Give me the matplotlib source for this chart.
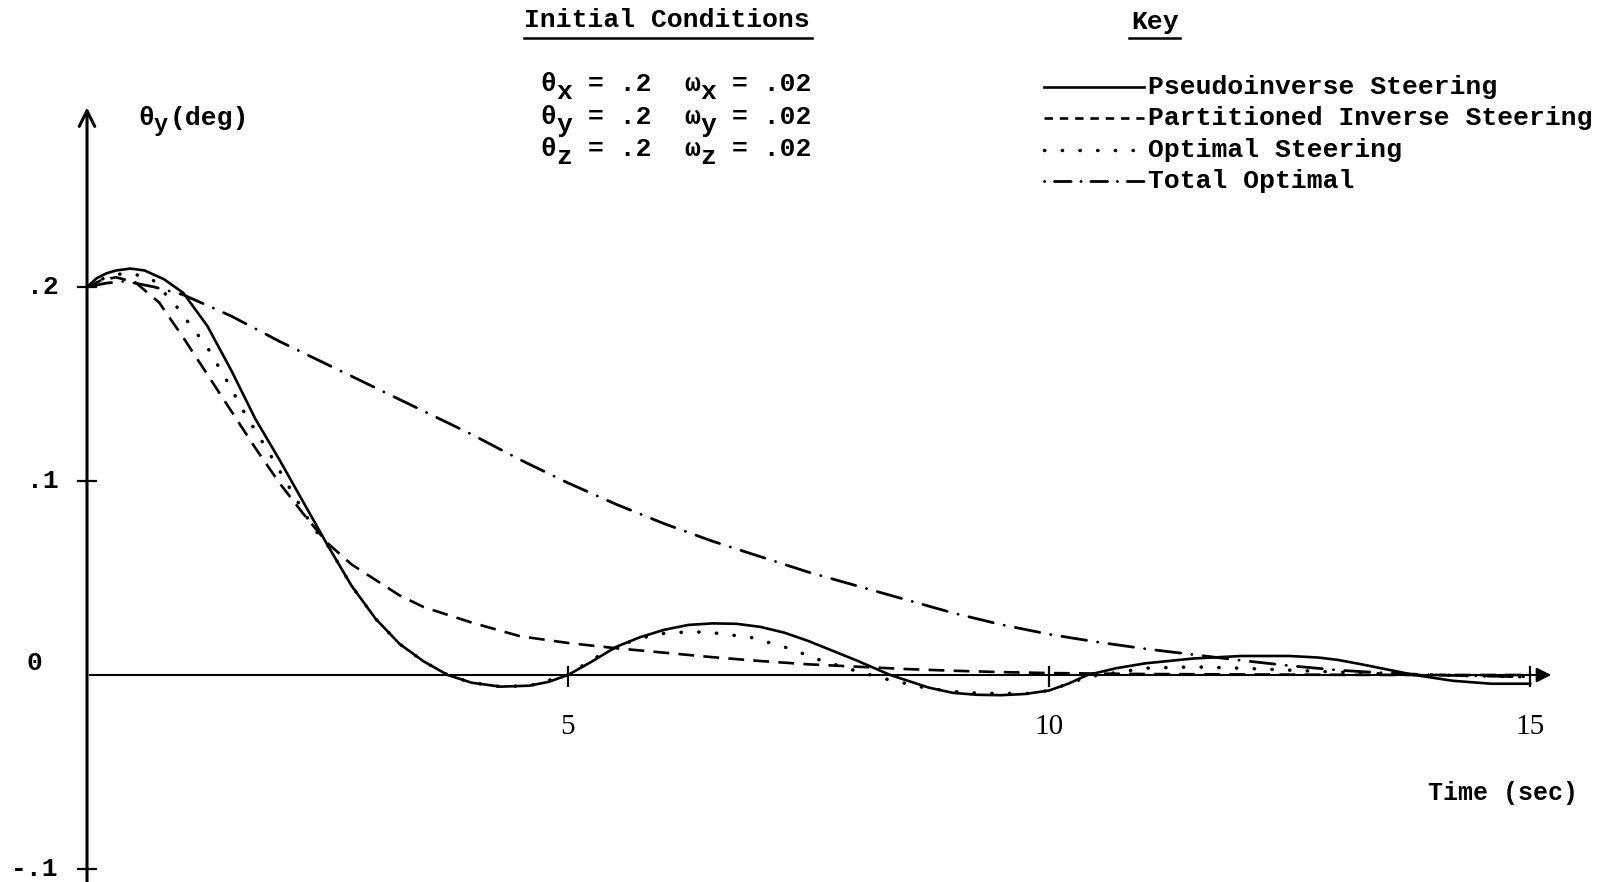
import numpy as np
import matplotlib.pyplot as plt
from matplotlib.lines import Line2D

plt.rcParams['font.family'] = ['Liberation Mono', 'DejaVu Sans Mono']

# data (time in sec, theta_y in deg)
t_pseudo = [0, 0.1, 0.2, 0.3, 0.45, 0.6, 0.8, 1.0, 1.25, 1.5, 1.75, 2.0, 2.25, 2.5, 2.75, 3.0,
            3.25, 3.5, 3.75, 4.0, 4.3, 4.6, 4.8, 5.0, 5.25, 5.5, 5.75, 6.0, 6.25, 6.5, 6.75, 7.0,
            7.25, 7.5, 7.75, 8.0, 8.35, 8.75, 9.0, 9.25, 9.5, 9.75, 10.0, 10.2, 10.4, 10.7, 11.0,
            11.5, 12.0, 12.5, 12.8, 13.0, 13.25, 13.5, 13.8, 14.2, 14.6, 15.0]
y_pseudo = [0.200, 0.2045, 0.207, 0.2085, 0.2095, 0.2085, 0.204, 0.197, 0.180, 0.157, 0.132,
            0.111, 0.089, 0.067, 0.046, 0.029, 0.016, 0.007, 0.0, -0.004, -0.006, -0.0055,
            -0.0035, 0.0, 0.007, 0.0145, 0.0195, 0.0233, 0.0258, 0.0266, 0.0264, 0.0248, 0.0218,
            0.0175, 0.0125, 0.0075, 0.0, -0.0065, -0.0092, -0.0102, -0.0104, -0.0098, -0.008,
            -0.0045, 0.0, 0.0035, 0.006, 0.0085, 0.0098, 0.0098, 0.009, 0.0078, 0.0055, 0.003,
            0.0, -0.003, -0.0045, -0.0045]

t_part = [0, 0.15, 0.3, 0.5, 0.75, 1.0, 1.25, 1.5, 1.75, 2.0, 2.25, 2.5, 2.75, 3.0, 3.25, 3.5,
          4.0, 4.5, 5.0, 5.5, 6.0, 6.5, 7.0, 7.5, 8.0, 8.5, 9.0, 9.5, 10, 11, 12, 13, 14, 15]
y_part = [0.200, 0.2035, 0.205, 0.2025, 0.192, 0.174, 0.155, 0.136, 0.117, 0.099, 0.083, 0.068,
          0.057, 0.049, 0.041, 0.035, 0.027, 0.020, 0.0165, 0.0138, 0.0115, 0.0092, 0.0072,
          0.0055, 0.0043, 0.0031, 0.0022, 0.0015, 0.001, 0.0005, 0.0003, 0.0001, 0.0, 0.0]

t_opt = [0, 0.15, 0.3, 0.45, 0.67, 0.93, 1.05, 1.25, 1.45, 1.65, 1.9, 2.1, 2.35, 2.5, 2.75, 3.0,
         3.25, 3.5, 3.75, 4.0, 4.3, 4.6, 5.0, 5.25, 5.5, 5.75, 6.0, 6.3, 6.5, 6.9, 7.3, 7.6, 8.0,
         8.3, 8.7, 9.0, 9.3, 9.8, 10.0, 10.4, 11.0, 11.5, 12.0, 12.5, 13.0, 13.5, 14.0, 15.0]
y_opt = [0.200, 0.204, 0.2065, 0.207, 0.2045, 0.190, 0.182, 0.169, 0.152, 0.134, 0.114, 0.097,
         0.076, 0.067, 0.046, 0.029, 0.016, 0.007, 0.0, -0.004, -0.006, -0.0055, 0.0, 0.008,
         0.0145, 0.019, 0.0215, 0.0223, 0.0218, 0.0194, 0.0137, 0.008, 0.002, -0.002, -0.0065,
         -0.0085, -0.0095, -0.0095, -0.008, -0.001, 0.0035, 0.0042, 0.0035, 0.0025, 0.0015,
         0.0005, 0.0, -0.001]

t_total = [0, 0.2, 0.4, 0.7, 1.0, 1.5, 2.0, 2.5, 3.0, 3.5, 4.0, 4.5, 5.0, 5.5, 6.0, 6.5, 7.0,
           7.5, 8.0, 8.5, 9.0, 9.5, 10.0, 10.5, 11.0, 11.5, 12.0, 12.5, 13.0, 13.5, 14.0, 14.5, 15.0]
y_total = [0.200, 0.202, 0.203, 0.200, 0.196, 0.185, 0.172, 0.160, 0.148, 0.136, 0.124, 0.111,
           0.099, 0.088, 0.078, 0.069, 0.061, 0.053, 0.046, 0.039, 0.032, 0.026, 0.021, 0.017,
           0.0135, 0.0105, 0.0075, 0.0048, 0.0025, 0.001, 0.0, -0.0005, -0.001]

y_ticks = [0.2, 0.1, 0, -0.1]
y_ticklabels = ['.2', '.1', '0', '-.1']
x_ticks = [5, 10, 15]
x_ticklabels = ['5', '10', '15']

W, H = 1605, 882
fig = plt.figure(figsize=(W / 100, H / 100), dpi=100)
ax = fig.add_axes([0, 0, 1, 1])
x0px, y0px, sx, sy = 87, 675, 96.2, 1940.0
ax.set_xlim(-x0px / sx, (W - x0px) / sx)
ax.set_ylim(-(H - y0px) / sy, y0px / sy)
ax.axis('off')

FS = 19
TW = 'bold'


def fpos(px, py):
    return px / W, 1 - py / H


def ftext(px, py, s, **kw):
    kw.setdefault('fontsize', FS)
    kw.setdefault('weight', TW)
    kw.setdefault('va', 'center')
    return fig.text(*fpos(px, py), s, **kw)


styles = {
    'solid': dict(linestyle='-', lw=1.9),
    'dash': dict(linestyle=(0, (6, 3.5)), lw=1.9),
    'dot': dict(linestyle=(0, (0.1, 5)), lw=2.5, dash_capstyle='round'),
    'dashdot': dict(linestyle=(0, (9, 4, 0.1, 4)), lw=2.0, dash_capstyle='round'),
}
key_line_styles = {
    'solid': dict(linestyle='-', lw=1.9),
    'dash': dict(linestyle=(0, (3.2, 2.6)), lw=1.9),
    'dot': dict(linestyle=(0, (0.1, 5)), lw=2.5, dash_capstyle='round'),
    'dashdot': dict(linestyle=(0, (0.1, 3.5, 6, 3.5)), lw=2.0, dash_capstyle='round'),
}

ax.plot(t_pseudo, y_pseudo, color='black', **styles['solid'])
ax.plot(t_part, y_part, color='black', **styles['dash'])
ax.plot(t_opt, y_opt, color='black', **styles['dot'])
ax.plot(t_total, y_total, color='black', **styles['dashdot'])

# axes with arrows
ax.annotate('', xy=(0, 0.294), xytext=(0, -0.11),
            arrowprops=dict(arrowstyle='->', lw=2.2, color='black', mutation_scale=28))
ax.annotate('', xy=(15.25, 0), xytext=(0, 0),
            arrowprops=dict(arrowstyle='-|>', lw=1.5, color='black', mutation_scale=22))

for yt in y_ticks:
    if yt != 0:
        ax.plot([-0.095, 0.09], [yt, yt], color='black', lw=1.6)
ylab_x = {'.2': 43, '.1': 43, '0': 34, '-.1': 35}
for yt, lab in zip(y_ticks, y_ticklabels):
    py = 663 if lab == '0' else y0px - yt * sy
    ftext(ylab_x[lab], py, lab, ha='center')

for xt, lab in zip(x_ticks, x_ticklabels):
    ax.plot([xt, xt], [-0.0055, 0.004], color='black', lw=1.6)
    ftext(x0px + xt * sx, 727, lab, ha='center', fontsize=21, weight='normal',
          family='Liberation Serif')

ftext(1503, 793, 'Time (sec)', ha='center', fontsize=18)

# y label with subscript
cw = 16.0
ftext(138, 118, '\u03b8', ha='left')
ftext(138 + cw, 125, 'y', ha='left', fontsize=17)
ftext(138 + 2 * cw, 118, '(deg)', ha='left')

# initial conditions block
ftext(667, 20, 'Initial Conditions', ha='center')
fig.add_artist(Line2D([524 / W, 812 / W], [1 - 38 / H, 1 - 38 / H], color='black', lw=1.8))
for sub, py in zip(['x', 'y', 'z'], [84, 117, 149]):
    ftext(540, py, '\u03b8', ha='left')
    ftext(540 + cw, py + 8, sub, ha='left')
    ftext(540 + 3 * cw, py, '= .2', ha='left')
    ftext(540 + 9 * cw, py, '\u03c9', ha='left')
    ftext(540 + 10 * cw, py + 8, sub, ha='left')
    ftext(540 + 12 * cw, py, '= .02', ha='left')

# key
ftext(1155, 22, 'Key', ha='center')
fig.add_artist(Line2D([1129 / W, 1180 / W], [1 - 38 / H, 1 - 38 / H], color='black', lw=1.8))
key_names = ['Pseudoinverse Steering', 'Partitioned Inverse Steering', 'Optimal Steering',
             'Total Optimal']
key_styles = ['solid', 'dash', 'dot', 'dashdot']
key_rows = [87, 118, 150, 181]
for name, st, py in zip(key_names, key_styles, key_rows):
    yy = 1 - py / H
    fig.add_artist(Line2D([1044 / W, 1144 / W], [yy, yy], color='black', **key_line_styles[st]))
    ftext(1148, py, name, ha='left')

fig.savefig('out.png', dpi=100, facecolor='white')
